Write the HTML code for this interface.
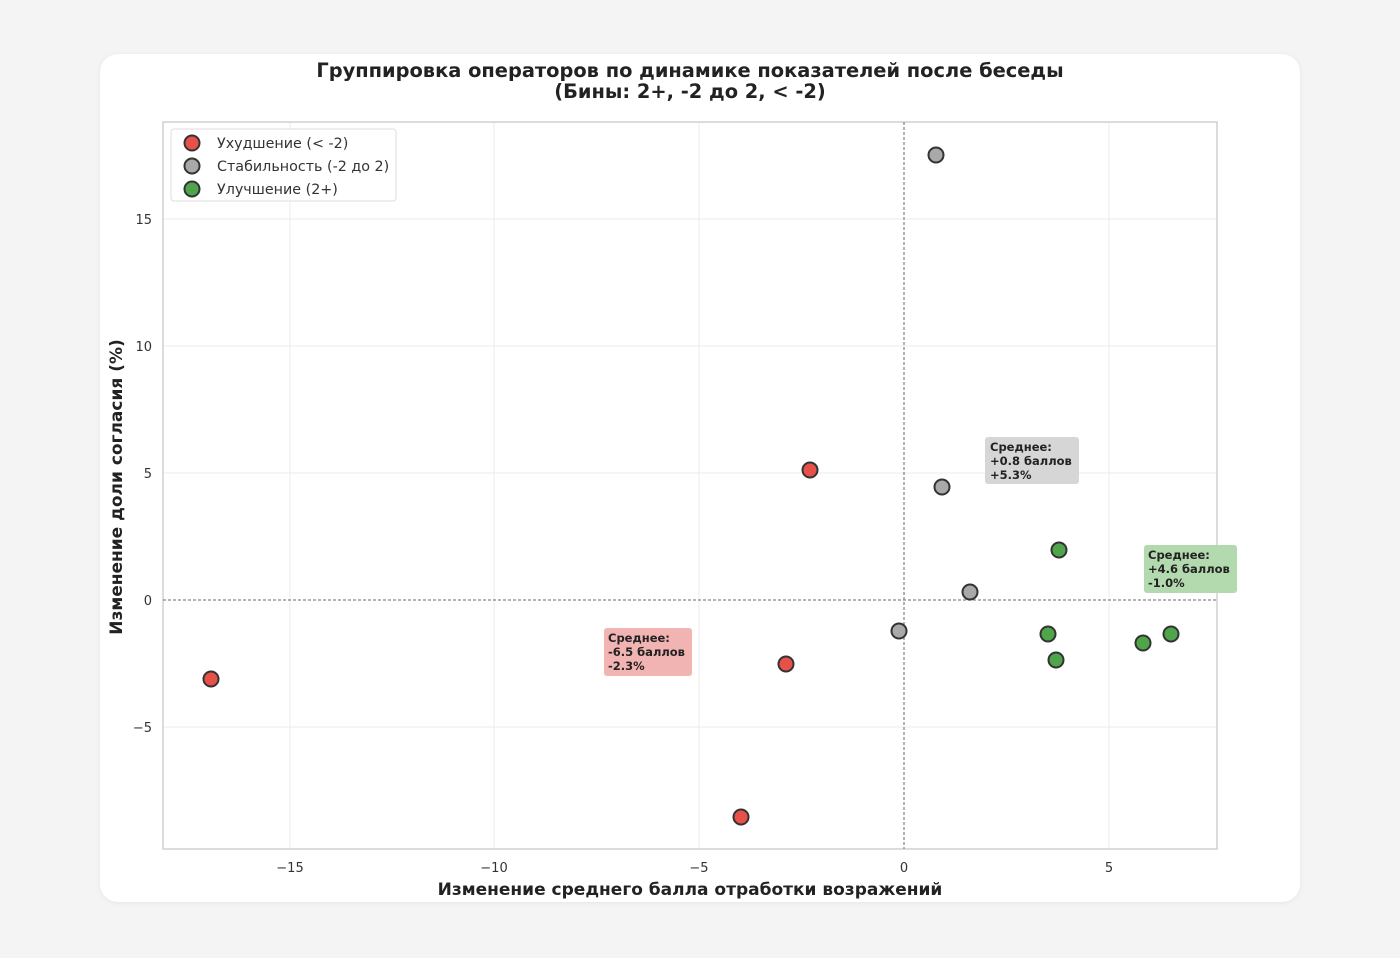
<!DOCTYPE html>
<html><head><meta charset="utf-8"><style>
html,body{margin:0;padding:0;background:#f4f4f4;}
body{width:1400px;height:958px;position:relative;overflow:hidden;}
.card{position:absolute;left:100px;top:54px;width:1200px;height:848px;background:#fff;border-radius:18px;box-shadow:0 1px 6px rgba(0,0,0,0.06);}
svg{position:absolute;left:0;top:0;}
text{font-family:"DejaVu Sans","Liberation Sans",sans-serif;}
</style></head><body>
<div class="card"></div>
<svg width="1400" height="958" xmlns="http://www.w3.org/2000/svg">
<text x="690" y="77" text-anchor="middle" font-size="19.4" font-weight="bold" fill="#222">Группировка операторов по динамике показателей после беседы</text>
<text x="690" y="98" text-anchor="middle" font-size="19.4" font-weight="bold" fill="#222">(Бины: 2+, -2 до 2, &lt; -2)</text>
<g stroke="#ebebeb" stroke-width="1">
<line x1="290" y1="122" x2="290" y2="849"/><line x1="494" y1="122" x2="494" y2="849"/><line x1="699" y1="122" x2="699" y2="849"/><line x1="1109" y1="122" x2="1109" y2="849"/>
<line x1="163" y1="219" x2="1217" y2="219"/><line x1="163" y1="346" x2="1217" y2="346"/><line x1="163" y1="473" x2="1217" y2="473"/><line x1="163" y1="727" x2="1217" y2="727"/>
</g>
<rect x="163" y="122" width="1054" height="727" fill="none" stroke="#d0d0d0" stroke-width="1.5"/>
<g stroke="#888" stroke-width="1.3" stroke-dasharray="3,2">
<line x1="904" y1="122" x2="904" y2="849"/><line x1="163" y1="600" x2="1217" y2="600"/>
</g>
<g font-size="13" fill="#333" text-anchor="middle">
<text x="290" y="872">−15</text><text x="494" y="872">−10</text><text x="699" y="872">−5</text><text x="904" y="872">0</text><text x="1109" y="872">5</text>
</g>
<g font-size="13" fill="#333" text-anchor="end">
<text x="152" y="224">15</text><text x="152" y="351">10</text><text x="152" y="478">5</text><text x="152" y="605">0</text><text x="152" y="732">−5</text>
</g>
<text x="690" y="895" text-anchor="middle" font-size="17" font-weight="bold" fill="#222">Изменение среднего балла отработки возражений</text>
<text transform="translate(122,487) rotate(-90)" text-anchor="middle" font-size="17" font-weight="bold" fill="#222">Изменение доли согласия (%)</text>
<rect x="985" y="437" width="94" height="47" rx="3" fill="#d6d6d6"/>
<g font-size="11.5" font-weight="bold" fill="#222"><text x="990" y="451">Среднее:</text><text x="990" y="465">+0.8 баллов</text><text x="990" y="479">+5.3%</text></g>
<rect x="1144" y="545" width="93" height="48" rx="3" fill="#b3d9ae"/>
<g font-size="11.5" font-weight="bold" fill="#222"><text x="1148" y="559">Среднее:</text><text x="1148" y="573">+4.6 баллов</text><text x="1148" y="587">-1.0%</text></g>
<rect x="604" y="628" width="88" height="48" rx="3" fill="#f2b3b3"/>
<g font-size="11.5" font-weight="bold" fill="#222"><text x="608" y="642">Среднее:</text><text x="608" y="656">-6.5 баллов</text><text x="608" y="670">-2.3%</text></g>
<g stroke="#333" stroke-width="2">
<g fill="#e8504a"><circle cx="211" cy="679" r="7.5"/><circle cx="810" cy="470" r="7.5"/><circle cx="786" cy="664" r="7.5"/><circle cx="741" cy="817" r="7.5"/></g>
<g fill="#a9a9a9"><circle cx="936" cy="155" r="7.5"/><circle cx="942" cy="487" r="7.5"/><circle cx="970" cy="592" r="7.5"/><circle cx="899" cy="631" r="7.5"/></g>
<g fill="#4fa54a"><circle cx="1059" cy="550" r="7.5"/><circle cx="1048" cy="634" r="7.5"/><circle cx="1056" cy="660" r="7.5"/><circle cx="1143" cy="643" r="7.5"/><circle cx="1171" cy="634" r="7.5"/></g>
</g>
<rect x="171" y="129" width="225" height="72" rx="3" fill="#fff" stroke="#ddd"/>
<g stroke="#333" stroke-width="2">
<circle cx="192" cy="143" r="7.5" fill="#e8504a"/><circle cx="192" cy="166" r="7.5" fill="#a9a9a9"/><circle cx="192" cy="189" r="7.5" fill="#4fa54a"/>
</g>
<g font-size="14.3" fill="#333">
<text x="217" y="148">Ухудшение (&lt; -2)</text><text x="217" y="171">Стабильность (-2 до 2)</text><text x="217" y="194">Улучшение (2+)</text>
</g>
</svg>
</body></html>
